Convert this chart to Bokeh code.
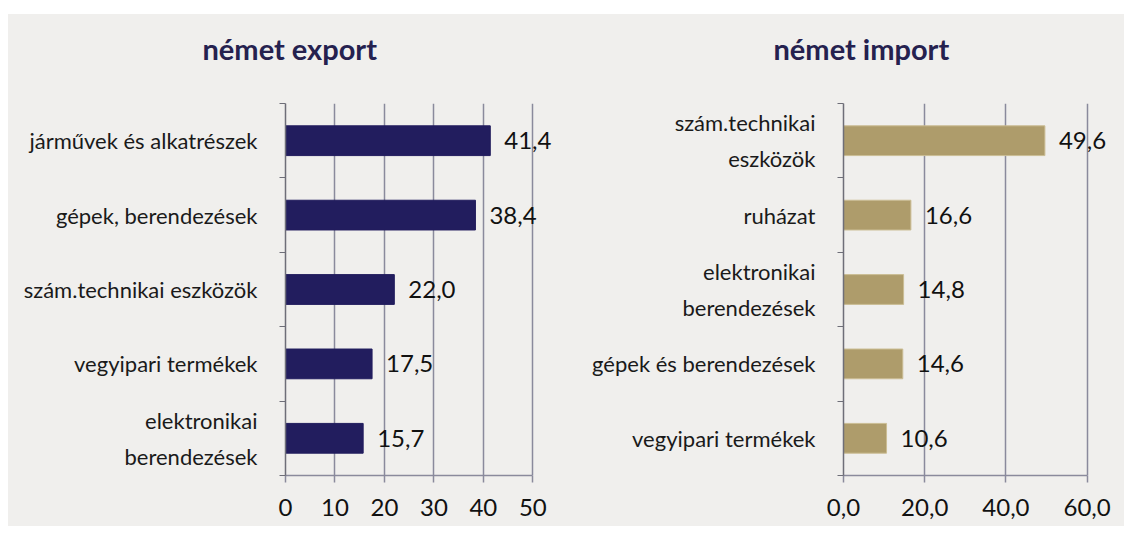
from bokeh.plotting import figure
from bokeh.models import Range1d, FixedTicker, LabelSet, ColumnDataSource, Spacer, Title
from bokeh.layouts import row, column
from bokeh.core.properties import value
from bokeh.embed import file_html
from bokeh.resources import INLINE

export_title = "német export"
export_categories = ["járművek és alkatrészek", "gépek, berendezések",
                     "szám.technikai eszközök", "vegyipari termékek",
                     "elektronikai\nberendezések"]
export_values = [41.4, 38.4, 22.0, 17.5, 15.7]
export_ticks = [0, 10, 20, 30, 40, 50]
export_tick_labels = ["0", "10", "20", "30", "40", "50"]

import_title = "német import"
import_categories = ["szám.technikai\neszközök", "ruházat",
                     "elektronikai\nberendezések", "gépek és berendezések",
                     "vegyipari termékek"]
import_values = [49.6, 16.6, 14.8, 14.6, 10.6]
import_ticks = [0, 20, 40, 60]
import_tick_labels = ["0,0", "20,0", "40,0", "60,0"]

BG = "#f0efed"
GRID = "#8a8a9c"
FONT = "Lato"


def make_panel(title, cats, vals, ticks, tick_labels, fill, line,
               x_end, border_right, title_offset):
    n = len(cats)
    ys = [n - 1 - i for i in range(n)]
    src = ColumnDataSource(dict(
        y=ys, v=vals,
        t=[f"{v:.1f}".replace(".", ",") for v in vals]))
    p = figure(width=558, height=512,
               x_range=Range1d(ticks[0], x_end),
               y_range=Range1d(-0.5, n - 0.5),
               min_border_left=277, min_border_right=border_right,
               min_border_top=89, min_border_bottom=51,
               background_fill_color=BG, border_fill_color=BG,
               outline_line_color=None, toolbar_location=None,
               output_backend="svg")
    # blank spacer title next to the frame, real title above it
    p.add_layout(Title(text=" ", standoff=30, text_font_size="1px",
                       text_color=BG), "above")
    p.add_layout(Title(text=title, align="left", offset=title_offset,
                       standoff=10, text_font=FONT, text_font_style="bold",
                       text_font_size="29px", text_color="#25214f"), "above")
    p.hbar(y="y", right="v", left=0, height=0.4, source=src,
           fill_color=fill, line_color=line, line_width=1)

    p.xgrid.ticker = FixedTicker(ticks=ticks)
    p.xgrid.grid_line_color = GRID
    p.xgrid.grid_line_width = 1.5
    p.ygrid.visible = False

    xa = p.xaxis[0]
    xa.ticker = FixedTicker(ticks=ticks)
    xa.bounds = (ticks[0], ticks[-1])
    xa.major_label_overrides = {t: l for t, l in zip(ticks, tick_labels)}
    xa.axis_line_color = GRID
    xa.axis_line_width = 1.5
    xa.major_tick_line_color = GRID
    xa.major_tick_line_width = 1.5
    xa.major_tick_in = 0
    xa.major_tick_out = 7
    xa.minor_tick_line_color = None
    xa.major_label_standoff = 16
    xa.major_label_text_font = FONT
    xa.major_label_text_font_size = "24px"
    xa.major_label_text_color = "#111111"

    ya = p.yaxis[0]
    ya.ticker = FixedTicker(ticks=ys, minor_ticks=[k - 0.5 for k in range(n + 1)])
    ya.major_label_overrides = {y: c for y, c in zip(ys, cats)}
    ya.axis_line_color = "#6e6e78"
    ya.axis_line_width = 1.5
    ya.major_tick_line_color = None
    ya.major_tick_in = 0
    ya.major_tick_out = 0
    ya.minor_tick_line_color = "#6e6e78"
    ya.minor_tick_line_width = 1.2
    ya.minor_tick_in = 0
    ya.minor_tick_out = 6
    ya.major_label_standoff = 22
    ya.major_label_text_font = FONT
    ya.major_label_text_font_size = "22px"
    ya.major_label_text_color = "#1a1a1a"
    ya.major_label_text_line_height = 1.35

    p.add_layout(LabelSet(x="v", y="y", text="t", source=src, x_offset=14,
                          text_baseline="middle", text_font=value(FONT),
                          text_font_size="24px", text_color="#111111"))
    return p


p1 = make_panel(export_title, export_categories, export_values, export_ticks,
                export_tick_labels, "#221d5e", "#221d5e", 56, 4, -83)
p2 = make_panel(import_title, import_categories, import_values, import_ticks,
                import_tick_labels, "#ae9c6b", "#cbbd94", 66, 13, -70)

panels = row(p1, p2, styles={"background-color": BG})
layout = column(Spacer(height=14, width=1124),
                row(Spacer(width=8, height=512), panels))
open("out.html", "w").write(file_html(layout, INLINE))
